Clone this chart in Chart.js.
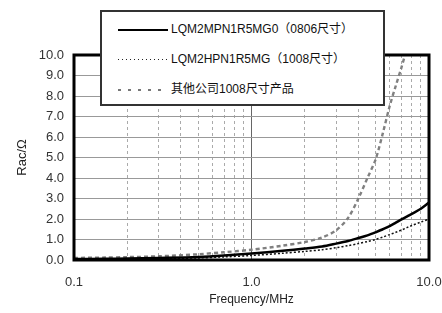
<!DOCTYPE html>
<html>
<head>
<meta charset="utf-8">
<script src="https://cdn.jsdelivr.net/npm/chart.js@4"></script>
<style>
  body{margin:0;background:#fff;}
  #wrap{position:relative;width:442px;height:313px;}
  #legendBox{position:absolute;left:100px;top:10px;width:281px;height:92px;border:2px solid #333;background:#fff;
    font-family:"Liberation Sans","Noto Sans CJK SC",sans-serif;font-size:12px;color:#111;}
  .row{position:absolute;left:16px;height:14px;line-height:14px;white-space:nowrap;}
  .sample{display:inline-block;width:50px;vertical-align:middle;margin-right:3px;}
</style>
</head>
<body>
<div id="wrap">
  <canvas id="chart" width="442" height="313"></canvas>
  <div id="legendBox"></div>
</div>
<script>
// frequency (MHz) and Rac (ohm)
const freq = [0.1,0.15,0.2,0.3,0.5,0.7,1,1.5,2,2.5,3,3.5,4,4.5,5,5.5,6,6.5,7,7.5,8,9,10];
const racMPN = [0.05,0.06,0.07,0.1,0.15,0.22,0.32,0.45,0.56,0.66,0.8,0.93,1.07,1.2,1.35,1.5,1.65,1.82,1.98,2.12,2.25,2.5,2.8];
const racHPN = [0.03,0.04,0.05,0.07,0.1,0.15,0.22,0.33,0.42,0.5,0.6,0.7,0.8,0.9,1.0,1.12,1.24,1.35,1.46,1.58,1.68,1.85,2.0];
const racOther = [0.1,0.12,0.14,0.18,0.28,0.38,0.5,0.7,0.88,1.1,1.45,2.05,3.0,4.0,4.9,6.2,7.5,8.5,9.4,10.3,null,null,null];
const seriesNames = ["LQM2MPN1R5MG0（0806尺寸）","LQM2HPN1R5MG（1008尺寸）","其他公司1008尺寸产品"];
const xTicks = [0.1,0.2,0.3,0.4,0.5,0.6,0.7,0.8,0.9,1,2,3,4,5,6,7,8,9,10];
const xLabels = {0.1:"0.1",1:"1.0",10:"10.0"};
const yTicks = [0,1,2,3,4,5,6,7,8,9,10];

const font = "'Liberation Sans','Noto Sans CJK SC',sans-serif";
const pts = vals => freq.map((f,i)=>({x:f,y:vals[i]}));

// thick frame round the plot
const framePlugin = {
  id:"frame",
  afterDraw(chart){
    const a = chart.chartArea, c = chart.ctx;
    c.save();
    c.strokeStyle = "#000";
    c.lineWidth = 3;
    c.strokeRect(a.left, a.top, a.right-a.left, a.bottom-a.top);
    c.restore();
  }
};

new Chart(document.getElementById("chart").getContext("2d"),{
  type:"line",
  data:{
    datasets:[
      {label:seriesNames[0],data:pts(racMPN),borderColor:"#000",borderWidth:2.5,pointRadius:0,tension:0.3},
      {label:seriesNames[1],data:pts(racHPN),borderColor:"#111",borderWidth:1.5,borderDash:[2,2],pointRadius:0,tension:0.3},
      {label:seriesNames[2],data:pts(racOther),borderColor:"#808080",borderWidth:2.4,borderDash:[4,3],pointRadius:0,tension:0.3}
    ]
  },
  options:{
    responsive:false,
    animation:false,
    events:[],
    layout:{padding:{top:55,right:0,left:0,bottom:0}},
    plugins:{legend:{display:false},tooltip:{enabled:false}},
    scales:{
      x:{
        type:"logarithmic",min:0.1,max:10,
        afterBuildTicks:s=>{s.ticks = xTicks.map(v=>({value:v}));},
        afterFit:s=>{s.height = 53; s.paddingLeft = 0; s.paddingRight = 13;},
        grid:{drawTicks:false,
          color:c=>c.tick && c.tick.value===1 ? "#666" : "#aaa",
          lineWidth:1},
        border:{display:false,dash:c=>c.tick && c.tick.value===1 ? [] : [3,3]},
        ticks:{autoSkip:false,maxRotation:0,padding:15,color:"#333",font:{family:font,size:13},
          callback:v=>xLabels[v] || ""},
        title:{display:true,text:"Frequency/MHz",color:"#222",font:{family:font,size:12},padding:{top:0,bottom:6}}
      },
      y:{
        min:0,max:10,
        afterBuildTicks:s=>{s.ticks = yTicks.map(v=>({value:v}));},
        afterFit:s=>{s.width = 74;},
        grid:{drawTicks:false,color:"#999",lineWidth:1},
        border:{display:false},
        ticks:{padding:10,color:"#333",font:{family:font,size:13},callback:v=>v.toFixed(1)},
        title:{display:true,text:"Rac/Ω",color:"#222",font:{family:font,size:13},padding:{top:15,bottom:0}}
      }
    }
  },
  plugins:[framePlugin]
});

// legend box over the plot
const legendStyles = [
  "height:2px;background:#000;",
  "height:1px;background:repeating-linear-gradient(90deg,#222 0 1px,transparent 1px 4px);",
  "height:2px;background:repeating-linear-gradient(90deg,#777 0 3px,transparent 3px 10px);"
];
const box = document.getElementById("legendBox");
seriesNames.forEach((name,i)=>{
  const row = document.createElement("div");
  row.className = "row";
  row.style.top = (10 + i*30) + "px";
  row.innerHTML = '<span class="sample" style="'+legendStyles[i]+'"></span>'+name;
  box.appendChild(row);
});
</script>
</body>
</html>
